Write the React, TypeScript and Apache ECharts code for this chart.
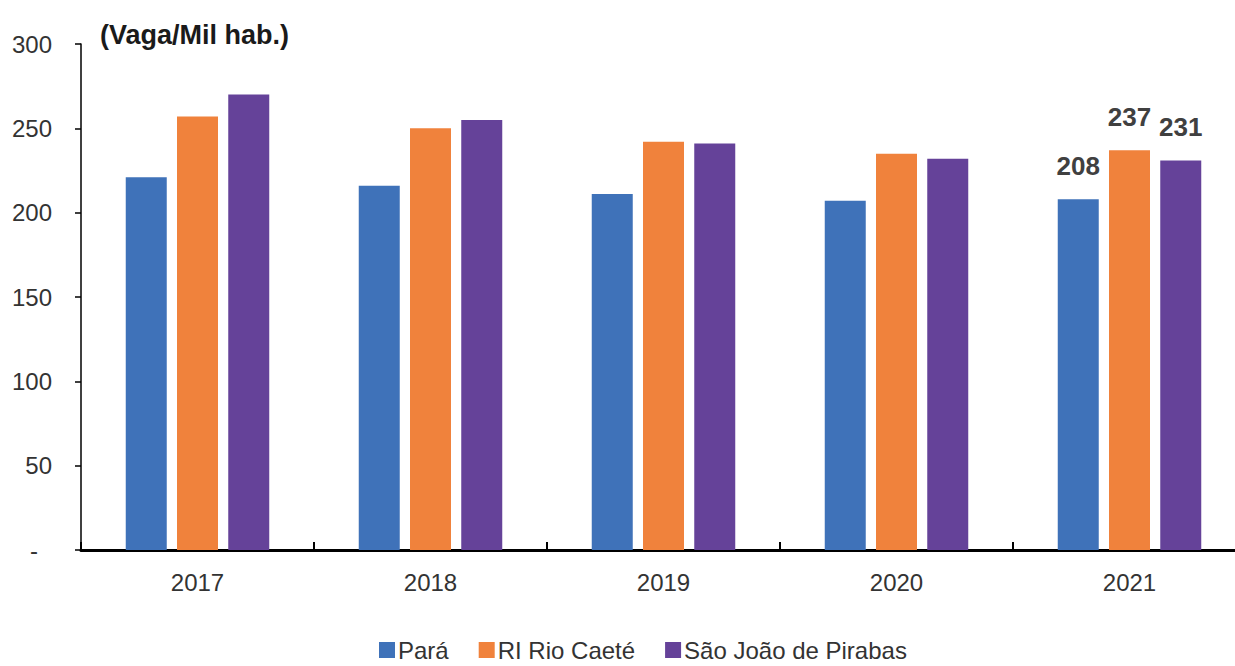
import React, { useEffect, useRef } from "react";
import * as echarts from "echarts";

const categories = ["2017", "2018", "2019", "2020", "2021"];
const para = [221, 216, 211, 207, 208];
const rioCaete = [257, 250, 242, 235, 237];
const saoJoao = [270, 255, 241, 232, 231];
const seriesNames = ["Pará", "RI Rio Caeté", "São João de Pirabas"];
const colors = ["#3F72B9", "#F0823C", "#654299"];
const yTicks = { min: 0, max: 300, interval: 50 };
const unitTitle = "(Vaga/Mil hab.)";

const FONT = "'Liberation Sans', Arial, sans-serif";

function withLastLabel(values: number[]) {
  return values.map((v, i) =>
    i === values.length - 1
      ? {
          value: v,
          label: {
            show: true,
            position: "top",
            distance: 20,
            fontSize: 26,
            fontWeight: "bold",
            color: "#404040",
            fontFamily: FONT,
          },
        }
      : v
  );
}

export default function App() {
  const ref = useRef<HTMLDivElement>(null);
  useEffect(() => {
    if (!ref.current) return;
    const chart = echarts.init(ref.current, null, { renderer: "svg" });
    const data = [para, rioCaete, saoJoao];
    chart.setOption({
      animation: false,
      backgroundColor: "#ffffff",
      textStyle: { fontFamily: FONT },
      title: {
        text: unitTitle,
        left: 95,
        top: 16,
        textStyle: { fontSize: 27, fontWeight: "bold", color: "#1a1a1a", fontFamily: FONT },
      },
      legend: {
        data: seriesNames,
        left: 374,
        top: 633,
        itemWidth: 16,
        itemHeight: 16,
        itemGap: 30,
        icon: "rect",
        textStyle: { fontSize: 24, color: "#333333", fontFamily: FONT, padding: [0, 0, 0, -2] },
      },
      grid: { left: 81, top: 44, width: 1165, height: 506, containLabel: false },
      xAxis: {
        type: "category",
        data: categories,
        axisLine: { lineStyle: { color: "#000000", width: 3 } },
        axisTick: { show: true, inside: true, length: 8, lineStyle: { color: "#000000", width: 2 } },
        axisLabel: { fontSize: 24, color: "#333333", margin: 20, fontFamily: FONT },
        splitLine: { show: false },
      },
      yAxis: {
        type: "value",
        min: yTicks.min,
        max: yTicks.max,
        interval: yTicks.interval,
        axisLine: { show: true, lineStyle: { color: "#000000", width: 1.5 } },
        axisTick: { show: true, length: 6, lineStyle: { color: "#000000", width: 1.5 } },
        axisLabel: {
          fontSize: 24,
          color: "#333333",
          margin: 29,
          fontFamily: FONT,
          formatter: (v: number) => (v === 0 ? "{d|-}" : String(v)),
          rich: { d: { fontSize: 24, color: "#333333", padding: [0, 14, 0, 0], fontFamily: FONT } },
        },
        splitLine: { show: false },
      },
      series: seriesNames.map((name, i) => ({
        name,
        type: "bar",
        data: withLastLabel(data[i]),
        barWidth: 41,
        barGap: "25%",
        itemStyle: { color: colors[i] },
      })),
    });
    return () => chart.dispose();
  }, []);
  return (
    <div
      style={{
        position: "absolute",
        left: 0,
        top: 0,
        width: 1235,
        height: 666,
        overflow: "hidden",
        background: "#ffffff",
      }}
    >
      <div ref={ref} style={{ width: 1260, height: 666 }} />
    </div>
  );
}
